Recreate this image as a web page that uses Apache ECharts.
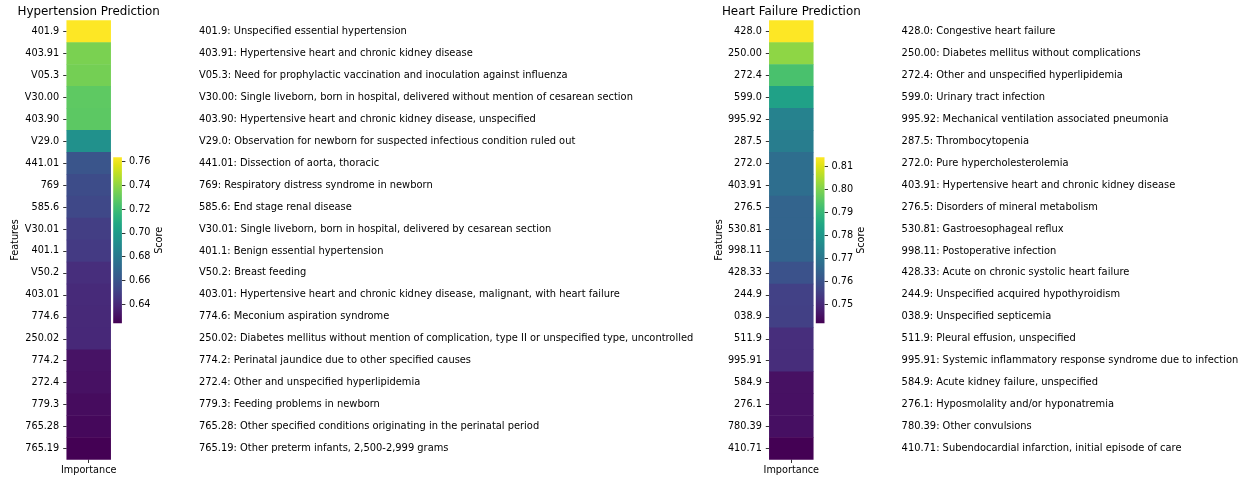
<!DOCTYPE html>
<html>
<head>
<meta charset="utf-8">
<script src="https://cdn.jsdelivr.net/npm/echarts@6/dist/echarts.min.js"></script>
<style>
  html, body { margin: 0; padding: 0; background: #ffffff; }
  #chart { width: 1246px; height: 477px; }
</style>
</head>
<body>
<div id="chart"></div>
<script>
// ---- Hypertension model: top-20 ICD-9 features ----
const htnCodes = ['401.9', '403.91', 'V05.3', 'V30.00', '403.90', 'V29.0', '441.01', '769', '585.6', 'V30.01',
  '401.1', 'V50.2', '403.01', '774.6', '250.02', '774.2', '272.4', '779.3', '765.28', '765.19'];
const htnNames = [
  'Unspecified essential hypertension',
  'Hypertensive heart and chronic kidney disease',
  'Need for prophylactic vaccination and inoculation against influenza',
  'Single liveborn, born in hospital, delivered without mention of cesarean section',
  'Hypertensive heart and chronic kidney disease, unspecified',
  'Observation for newborn for suspected infectious condition ruled out',
  'Dissection of aorta, thoracic',
  'Respiratory distress syndrome in newborn',
  'End stage renal disease',
  'Single liveborn, born in hospital, delivered by cesarean section',
  'Benign essential hypertension',
  'Breast feeding',
  'Hypertensive heart and chronic kidney disease, malignant, with heart failure',
  'Meconium aspiration syndrome',
  'Diabetes mellitus without mention of complication, type II or unspecified type, uncontrolled',
  'Perinatal jaundice due to other specified causes',
  'Other and unspecified hyperlipidemia',
  'Feeding problems in newborn',
  'Other specified conditions originating in the perinatal period',
  'Other preterm infants, 2,500-2,999 grams'
];
const htnScores = [0.7634, 0.7355, 0.7341, 0.7286, 0.7279, 0.6937, 0.6602, 0.6561, 0.6540, 0.6491,
  0.6477, 0.6421, 0.6407, 0.6400, 0.6398, 0.6310, 0.6303, 0.6282, 0.6268, 0.6240];
const htnTicks = [0.64, 0.66, 0.68, 0.70, 0.72, 0.74, 0.76];

// ---- Heart failure model: top-20 ICD-9 features ----
const hfCodes = ['428.0', '250.00', '272.4', '599.0', '995.92', '287.5', '272.0', '403.91', '276.5', '530.81',
  '998.11', '428.33', '244.9', '038.9', '511.9', '995.91', '584.9', '276.1', '780.39', '410.71'];
const hfNames = [
  'Congestive heart failure',
  'Diabetes mellitus without complications',
  'Other and unspecified hyperlipidemia',
  'Urinary tract infection',
  'Mechanical ventilation associated pneumonia',
  'Thrombocytopenia',
  'Pure hypercholesterolemia',
  'Hypertensive heart and chronic kidney disease',
  'Disorders of mineral metabolism',
  'Gastroesophageal reflux',
  'Postoperative infection',
  'Acute on chronic systolic heart failure',
  'Unspecified acquired hypothyroidism',
  'Unspecified septicemia',
  'Pleural effusion, unspecified',
  'Systemic inflammatory response syndrome due to infection',
  'Acute kidney failure, unspecified',
  'Hyposmolality and/or hyponatremia',
  'Other convulsions',
  'Subendocardial infarction, initial episode of care'
];
const hfScores = [0.8138, 0.8015, 0.7929, 0.7828, 0.7734, 0.7719, 0.7676, 0.7675, 0.7647, 0.7646,
  0.7645, 0.7596, 0.7553, 0.7552, 0.7510, 0.7508, 0.7448, 0.7447, 0.7445, 0.7416];
const hfTicks = [0.75, 0.76, 0.77, 0.78, 0.79, 0.80, 0.81];

const xCategory = ['Importance'];
const titles = ['Hypertension Prediction', 'Heart Failure Prediction'];

// viridis colormap sampled every 5%
const viridis = ['#440154', '#471365', '#482475', '#463480', '#414487', '#3b528b', '#355f8d',
  '#2f6c8e', '#2a788e', '#25848e', '#21918c', '#1e9c89', '#22a884', '#2fb47c', '#44bf70',
  '#5ec962', '#7ad151', '#9bd93c', '#bddf26', '#dfe318', '#fde725'];

const FONT = 'DejaVu Sans';
const TXT = '#000000';
const FS = 9.7;       // tick labels and axis names
const FS_DESC = 9.9;  // code descriptions
const FS_TITLE = 11.9;

const chart = echarts.init(document.getElementById('chart'), null, { renderer: 'canvas' });

function panel(idx, codes, names, scores, ticks, left) {
  const vmin = Math.min(...scores);
  const vmax = Math.max(...scores);
  const g = idx * 2;       // heatmap grid
  const cb = idx * 2 + 1;  // colorbar grid
  const grids = [
    { left: left, top: 20.5, width: 44, height: 439 },
    { left: left + 46.5, top: 157.3, width: 8.7, height: 166 }
  ];
  const xAxes = [
    {
      gridIndex: g, type: 'category', data: xCategory, position: 'bottom',
      axisLine: { show: false },
      axisTick: { show: true, alignWithLabel: true, length: 3.5, lineStyle: { color: TXT, width: 0.8 } },
      axisLabel: { color: TXT, fontFamily: FONT, fontSize: FS, margin: 6 },
      splitLine: { show: false }
    },
    { gridIndex: cb, type: 'category', data: [''], show: false }
  ];
  const yAxes = [
    {
      gridIndex: g, type: 'category', data: codes, inverse: true, position: 'left',
      name: 'Features', nameLocation: 'middle', nameRotate: 90, nameGap: 45,
      nameTextStyle: { color: TXT, fontFamily: FONT, fontSize: FS },
      axisLine: { show: false },
      axisTick: { show: true, alignWithLabel: true, length: 3.5, lineStyle: { color: TXT, width: 0.8 } },
      axisLabel: { color: TXT, fontFamily: FONT, fontSize: FS, margin: 7.5, interval: 0 },
      splitLine: { show: false }
    },
    {
      gridIndex: g, type: 'category', inverse: true, position: 'right',
      data: codes.map((c, i) => c + ': ' + names[i]),
      axisLine: { show: false }, axisTick: { show: false },
      axisLabel: { color: TXT, fontFamily: FONT, fontSize: FS_DESC, margin: 88.3, interval: 0 },
      splitLine: { show: false }
    },
    {
      gridIndex: cb, type: 'value', position: 'right', min: vmin, max: vmax,
      name: 'Score', nameLocation: 'middle', nameRotate: 90, nameGap: 31,
      nameTextStyle: { color: TXT, fontFamily: FONT, fontSize: FS },
      axisLine: { show: false },
      axisTick: { show: true, length: 3.5, customValues: ticks, lineStyle: { color: TXT, width: 0.8 } },
      axisLabel: { color: TXT, fontFamily: FONT, fontSize: FS, margin: 7, customValues: ticks,
        formatter: v => v.toFixed(2) },
      splitLine: { show: false }
    }
  ];
  const series = [
    {
      type: 'heatmap', xAxisIndex: g, yAxisIndex: idx * 3,
      data: scores.map((s, i) => [0, i, s]),
      itemStyle: { borderWidth: 0 },
      emphasis: { disabled: true },
      silent: true
    },
    {
      type: 'custom', xAxisIndex: cb, yAxisIndex: idx * 3 + 2,
      data: [[0, vmin, vmax]],
      silent: true,
      renderItem(params, api) {
        const top = api.coord([0, api.value(2)]);
        const bottom = api.coord([0, api.value(1)]);
        const cs = params.coordSys;
        const stops = viridis.map((c, i) => ({ offset: i / (viridis.length - 1), color: viridis[viridis.length - 1 - i] }));
        return {
          type: 'rect',
          shape: { x: cs.x, y: top[1], width: cs.width, height: bottom[1] - top[1] },
          style: { fill: new echarts.graphic.LinearGradient(0, 0, 0, 1, stops) }
        };
      }
    }
  ];
  const visualMap = {
    type: 'continuous', show: false, seriesIndex: idx * 2, min: vmin, max: vmax,
    dimension: 2, inRange: { color: viridis }
  };
  const title = {
    text: titles[idx], left: left + 22, top: 5.5, textAlign: 'center', padding: 0,
    textStyle: { color: TXT, fontFamily: FONT, fontSize: FS_TITLE, fontWeight: 'normal' }
  };
  return { grids, xAxes, yAxes, series, visualMap, title };
}

const p1 = panel(0, htnCodes, htnNames, htnScores, htnTicks, 66.7);
const p2 = panel(1, hfCodes, hfNames, hfScores, hfTicks, 769.3);

chart.setOption({
  backgroundColor: '#ffffff',
  animation: false,
  title: [p1.title, p2.title],
  grid: [...p1.grids, ...p2.grids],
  xAxis: [...p1.xAxes, ...p2.xAxes],
  yAxis: [...p1.yAxes, ...p2.yAxes],
  visualMap: [p1.visualMap, p2.visualMap],
  series: [...p1.series, ...p2.series]
});
</script>
</body>
</html>
